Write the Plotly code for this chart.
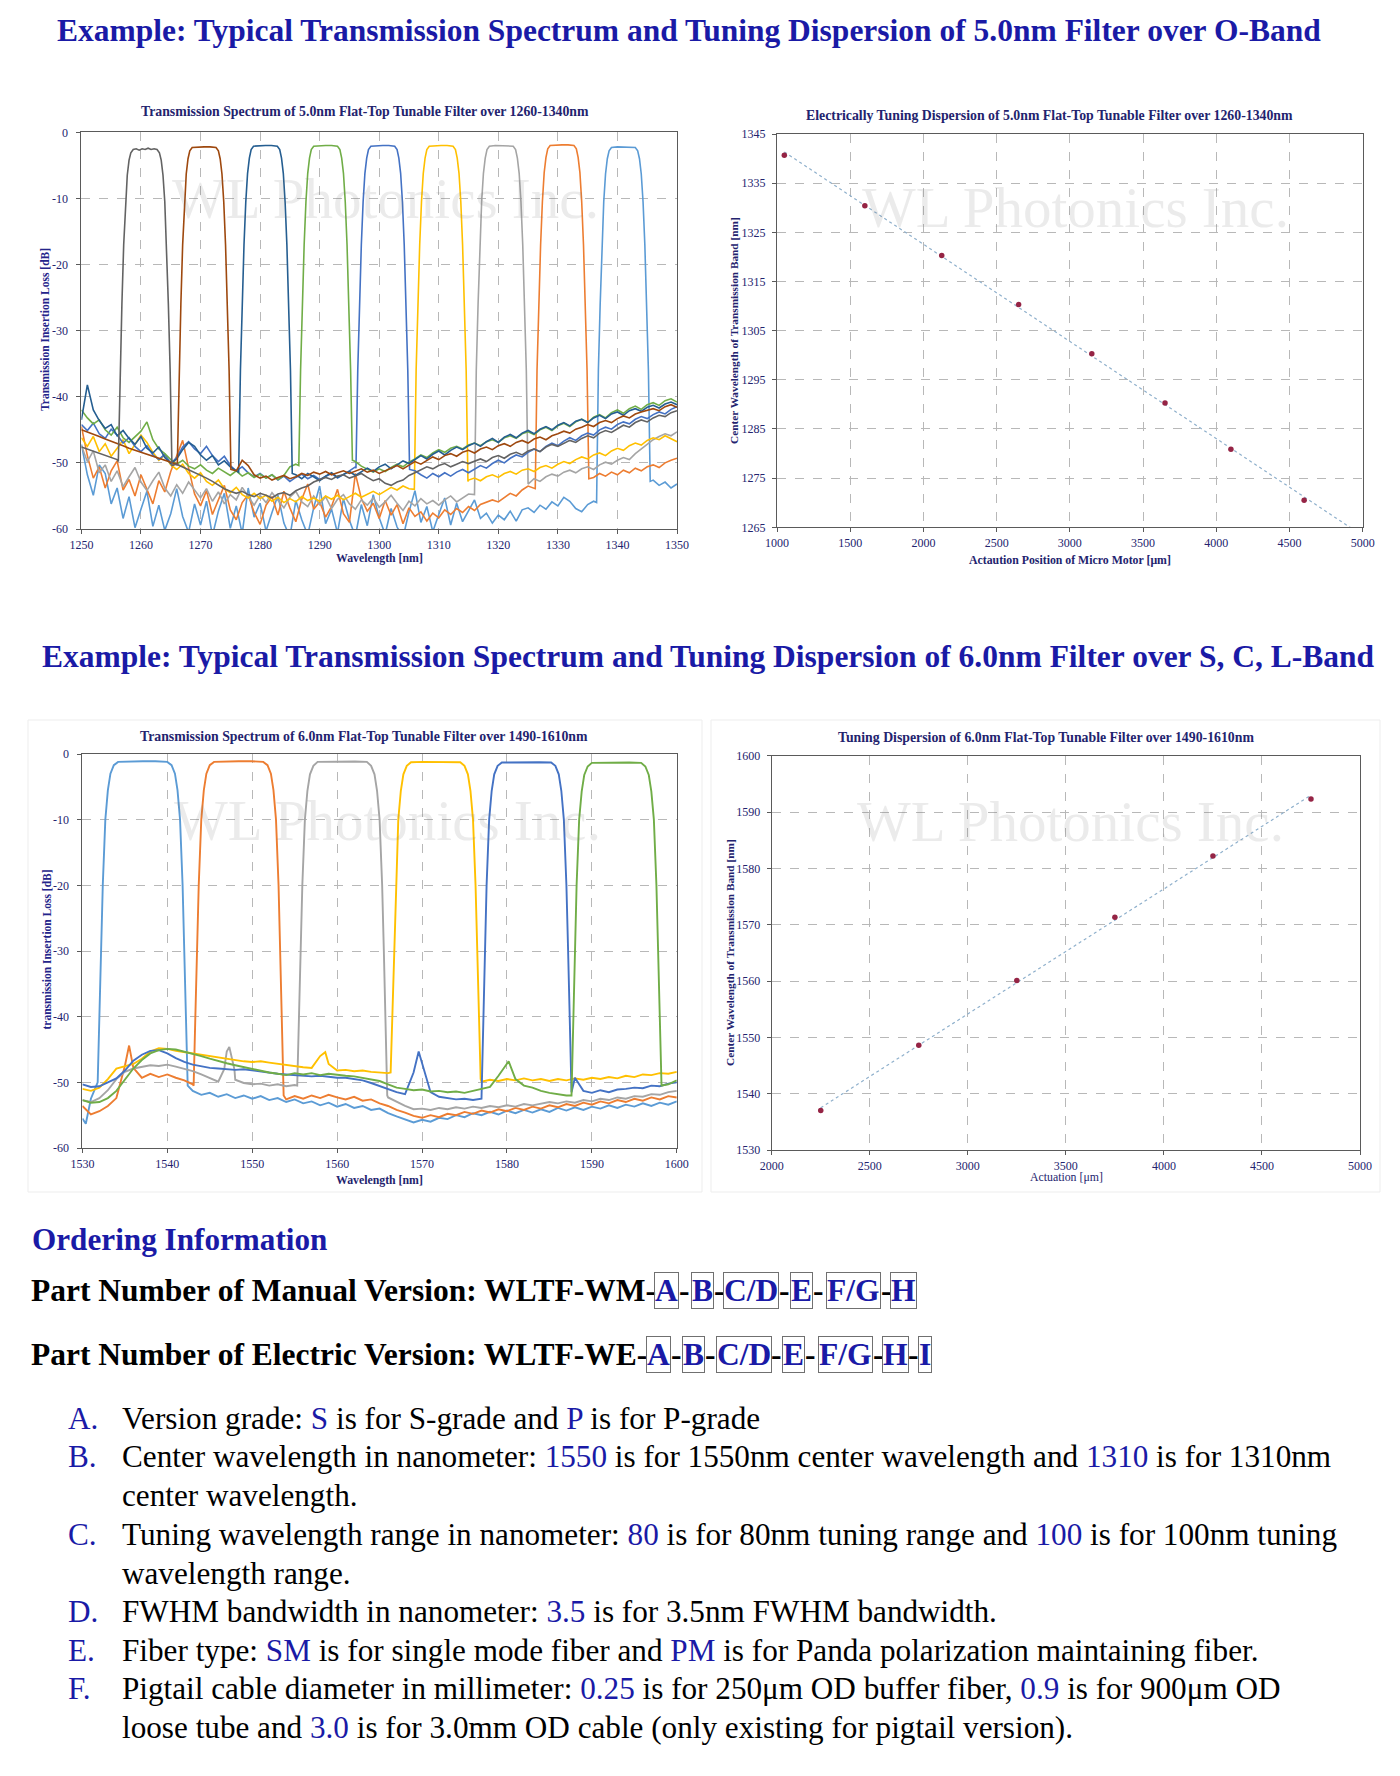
import plotly.graph_objects as go
import numpy as np

FONT = "Liberation Serif"
NAVY = "#23236e"
BLUE = "#1a1aa6"
W, H = 1400, 1776
PAGE_OFFSET = 8  # the html body margin shifts the figure by 8 px

# ---------------- Chart 1 : O-band spectra (1 nm baseline samples) ----------------
o_colors = ["#636363", "#9E480E", "#255E91", "#70AD47", "#4472C4",
            "#FFC000", "#A5A5A5", "#ED7D31", "#5B9BD5"]
o_xticks = [1250, 1260, 1270, 1280, 1290, 1300, 1310, 1320, 1330, 1340, 1350]
o_yticks = [-60, -50, -40, -30, -20, -10, 0]
o_yticklabels = ["-60", "-50", "-40", "-30", "-20", "-10", "0"]

o1_left = [-47.6, -47.9, -48.3, -48.6, -48.9, -49.2, -49.5]
o1_band_x = [1256.2, 1256.5, 1256.8, 1257.1, 1257.4, 1257.7, 1258.0, 1258.3, 1258.7, 1259.2, 1259.7,
             1260.2, 1260.7, 1261.2, 1261.7, 1262.2, 1262.7, 1263.1, 1263.4, 1263.7, 1264.0, 1264.3,
             1264.6, 1264.9, 1265.2]
o1_band_y = [-49.8, -36, -26, -17, -10.5, -6.5, -4.2, -3.1, -2.6, -2.5, -2.7, -2.5, -2.6, -2.4, -2.6,
             -2.5, -2.6, -3.1, -4.2, -6.5, -10.5, -17, -26, -36, -50.4]
o1_right_from = 1266
o1_right = [-50.2, -50.6, -51.0, -51.4, -51.9, -52.3, -52.8, -53.4, -53.9, -54.3,
            -54.6, -54.3, -54.8, -55.1, -54.6, -54.9, -55.3, -54.7, -54.5, -54.9,
            -54.2, -53.8, -53.5, -52.9, -52.6, -52.2, -52.5, -52.0, -51.8, -52.3,
            -52.0, -51.6, -52.2, -52.7, -52.4, -53.1, -53.4, -52.9, -52.6, -51.9,
            -51.5, -51.0, -50.6, -50.9, -50.4, -50.1, -50.6, -50.2, -49.8, -50.1,
            -49.7, -49.4, -49.8, -49.2, -48.9, -49.3, -48.7, -48.4, -48.8, -48.2,
            -47.9, -48.3, -47.6, -47.2, -47.5, -47.0, -46.6, -46.9, -46.3, -45.9,
            -46.2, -45.5, -45.1, -45.4, -44.8, -44.3, -44.6, -43.9, -43.5, -43.8,
            -43.2, -42.8, -43.0, -42.4, -42.1]

o2_left = [-45.0, -45.3, -45.7, -46.0, -46.4, -46.7, -47.1, -47.4, -47.8, -48.1,
           -48.4, -48.7, -49.0, -49.3, -49.6, -49.9, -50.2]
o2_band_x = [1266.1, 1266.4, 1266.7, 1267.0, 1267.3, 1267.6, 1267.9, 1268.2, 1268.6, 1269.6, 1270.6,
             1271.6, 1272.6, 1273.0, 1273.3, 1273.6, 1273.9, 1274.2, 1274.5, 1274.8, 1275.1]
o2_band_y = [-50.4, -36, -26, -17, -10.5, -6.3, -4.0, -2.8, -2.3, -2.2, -2.2, -2.2, -2.3, -2.8,
             -4.0, -6.3, -10.5, -17, -26, -36, -51.0]
o2_right_from = 1276
o2_right = [-51.2, -49.6, -50.4, -51.8, -52.3, -52.0, -52.6, -52.2, -51.9, -52.4,
            -52.1, -51.6, -51.9, -51.4, -51.7, -51.3, -51.8, -51.5, -51.2, -51.6,
            -51.3, -50.9, -51.4, -51.1, -51.6, -51.2, -50.8, -50.4, -50.9, -50.3,
            -49.8, -50.2, -49.6, -49.1, -49.5, -48.9, -48.6, -49.0, -48.4, -48.1,
            -48.5, -47.9, -47.6, -48.0, -47.4, -47.1, -47.5, -46.9, -46.6, -47.0,
            -46.4, -46.1, -46.5, -45.9, -45.6, -45.2, -45.5, -44.9, -44.6, -44.2,
            -44.5, -43.9, -43.6, -43.9, -43.3, -42.9, -43.2, -42.6, -42.3, -42.0,
            -41.8, -42.1, -41.5, -41.2, -41.6]

o3_left = [-43.5, -38.2, -42.0, -43.6, -44.8, -44.2, -45.9, -45.1, -46.3, -47.2,
           -46.0, -47.8, -48.5, -47.6, -49.2, -50.1, -49.4, -48.0, -46.9, -47.5,
           -48.8, -49.6, -48.9, -50.3, -49.7, -50.6, -51.2]
o3_band_x = [1276.4, 1276.7, 1277.0, 1277.3, 1277.6, 1277.9, 1278.2, 1278.5, 1278.9, 1279.9, 1280.9,
             1281.9, 1282.9, 1283.3, 1283.6, 1283.9, 1284.2, 1284.5, 1284.8, 1285.1, 1285.4]
o3_band_y = [-51.4, -36, -26, -17, -10.5, -6.2, -3.9, -2.6, -2.1, -2.0, -2.0, -2.0, -2.1, -2.6,
             -3.9, -6.2, -10.5, -17, -26, -36, -51.6]
o3_right_from = 1286
o3_right = [-51.8, -52.4, -51.6, -52.1, -52.7, -52.0, -51.5, -52.2, -51.7, -51.3,
            -51.9, -51.4, -50.8, -51.3, -50.6, -50.2, -50.9, -50.3, -49.7, -50.1,
            -49.5, -48.9, -49.4, -48.7, -48.2, -48.8, -48.1, -47.6, -48.0, -47.4,
            -47.0, -47.5, -46.8, -46.3, -46.9, -46.1, -45.7, -46.2, -45.5, -45.1,
            -45.6, -44.9, -44.5, -45.0, -44.3, -43.9, -44.4, -43.7, -43.4, -43.9,
            -43.2, -42.8, -43.3, -42.6, -42.3, -42.8, -42.1, -41.8, -42.2, -41.6,
            -41.3, -41.7, -41.1, -40.8, -41.2]

o4_left = [-42.0, -43.2, -44.1, -43.5, -45.0, -45.8, -44.6, -46.2, -46.9, -46.1,
           -45.2, -43.8, -46.5, -47.9, -48.6, -49.5, -50.2, -49.6, -50.5, -50.9,
           -50.3, -51.1, -51.6, -50.8, -51.4, -51.9, -51.2, -52.0, -51.5, -52.2,
           -51.7, -52.3, -51.8, -52.5, -51.9, -50.6, -50.2]
o4_band_x = [1286.5, 1286.8, 1287.1, 1287.4, 1287.7, 1288.0, 1288.3, 1288.6, 1289.0, 1290.0, 1291.0,
             1292.0, 1293.0, 1293.4, 1293.7, 1294.0, 1294.3, 1294.6, 1294.9, 1295.2, 1295.5]
o4_band_y = [-50.4, -36, -26, -17, -10.5, -6.2, -3.9, -2.6, -2.1, -2.0, -2.0, -2.0, -2.1, -2.6,
             -3.9, -6.2, -10.5, -17, -26, -36, -49.6]
o4_right_from = 1296
o4_right = [-49.8, -50.5, -51.0, -51.4, -50.9, -51.3, -50.7, -50.2, -50.6, -49.9,
            -49.4, -48.8, -49.2, -48.5, -48.0, -48.4, -47.8, -47.5, -47.9, -47.3,
            -47.0, -47.4, -46.8, -46.5, -46.9, -46.2, -45.9, -46.3, -45.6, -45.3,
            -45.7, -45.0, -44.6, -45.1, -44.4, -44.0, -44.5, -43.8, -43.4, -43.9,
            -43.1, -42.7, -43.2, -42.4, -42.0, -42.5, -41.8, -41.4, -41.9, -41.2,
            -40.9, -41.3, -40.6, -40.3, -40.8]

o5_left = [-44.2, -45.1, -44.0, -45.6, -46.3, -44.9, -45.8, -47.0, -46.2, -47.5,
           -48.3, -47.4, -48.8, -49.5, -48.7, -50.1, -49.2, -47.6, -46.8, -47.9,
           -48.6, -47.5, -48.9, -49.8, -49.0, -50.4, -51.2, -50.6, -51.5, -52.1,
           -51.6, -52.3, -51.8, -52.6, -52.0, -52.8, -52.2, -51.7, -52.4, -51.9,
           -52.5, -52.0, -51.6, -52.3, -51.8, -51.2, -50.6]
o5_band_x = [1296.1, 1296.4, 1296.7, 1297.0, 1297.3, 1297.6, 1297.9, 1298.2, 1298.6, 1299.6, 1300.6,
             1301.6, 1302.6, 1303.0, 1303.3, 1303.6, 1303.9, 1304.2, 1304.5, 1304.8, 1305.1]
o5_band_y = [-50.8, -36, -26, -17, -10.5, -6.2, -3.9, -2.6, -2.1, -2.0, -2.0, -2.0, -2.1, -2.6,
             -3.9, -6.2, -10.5, -17, -26, -36, -51.0]
o5_right_from = 1306
o5_right = [-51.2, -51.8, -52.3, -51.6, -52.1, -51.5, -52.0, -51.4, -51.0, -51.5,
            -50.9, -50.4, -50.8, -50.1, -49.6, -50.0, -49.3, -48.8, -49.1, -48.4,
            -47.9, -48.3, -47.5, -47.0, -47.4, -46.7, -46.2, -46.6, -45.9, -45.5,
            -45.8, -45.0, -44.6, -44.9, -44.2, -43.8, -44.1, -43.4, -43.0, -43.3,
            -42.7, -42.3, -42.6, -41.9, -41.5]

o6_left = [-46.2, -47.5, -46.0, -48.3, -47.1, -49.0, -47.8, -46.5, -48.6, -47.2,
           -45.8, -46.9, -48.4, -49.6, -48.8, -50.3, -51.0, -50.2, -51.6, -52.3,
           -51.5, -52.8, -53.4, -52.6, -53.9, -54.5, -53.7, -54.8, -55.3, -54.6,
           -55.4, -54.9, -55.8, -55.2, -56.0, -55.4, -55.9, -55.1, -55.7, -55.3,
           -55.8, -55.0, -55.5, -54.9, -55.6, -55.1, -54.6, -55.2, -54.7, -54.3,
           -54.8, -54.2, -53.7, -54.1, -53.5, -53.9]
o6_band_x = [1305.9, 1306.2, 1306.5, 1306.8, 1307.1, 1307.4, 1307.7, 1308.0, 1308.4, 1309.4, 1310.4,
             1311.4, 1312.4, 1312.8, 1313.1, 1313.4, 1313.7, 1314.0, 1314.3, 1314.6, 1314.9]
o6_band_y = [-54.0, -36, -26, -17, -10.5, -6.2, -3.9, -2.6, -2.1, -2.0, -2.0, -2.0, -2.1, -2.6,
             -3.9, -6.2, -10.5, -17, -26, -36, -52.8]
o6_right_from = 1315
o6_right = [-52.6, -52.3, -52.7, -52.1, -51.8, -52.2, -51.6, -51.3, -51.7, -51.1,
            -50.9, -51.3, -50.7, -50.4, -50.8, -50.2, -49.8, -50.1, -49.5, -49.1,
            -49.4, -48.8, -48.5, -48.9, -48.2, -47.8, -48.1, -47.4, -47.0, -47.3,
            -46.6, -46.2, -46.5, -45.9, -46.3, -46.8]

o7_left = [-47.4, -49.8, -48.2, -51.5, -50.3, -52.8, -51.2, -53.6, -52.1, -50.7,
           -52.9, -54.2, -52.7, -51.4, -53.8, -55.0, -53.3, -54.6, -52.9, -54.1,
           -55.3, -53.9, -55.8, -54.4, -56.2, -54.8, -55.6, -53.7, -55.1, -56.4,
           -54.9, -56.0, -54.5, -55.7, -56.8, -55.2, -54.3, -55.9, -56.6, -55.0,
           -56.3, -55.1, -56.9, -55.5, -54.8, -56.2, -57.0, -55.6, -56.4, -55.3,
           -56.7, -55.9, -54.9, -56.1, -57.2, -55.8, -56.5, -55.4, -56.2, -55.7,
           -56.4, -55.6, -55.0, -55.9, -55.3, -54.7]
o7_band_x = [1316.0, 1316.3, 1316.6, 1316.9, 1317.2, 1317.5, 1317.8, 1318.1, 1318.5, 1319.5, 1320.5,
             1321.5, 1322.5, 1322.9, 1323.2, 1323.5, 1323.8, 1324.1, 1324.4, 1324.7, 1325.0]
o7_band_y = [-54.8, -36, -26, -17, -10.5, -6.2, -3.9, -2.6, -2.1, -2.0, -2.0, -2.0, -2.1, -2.6,
             -3.9, -6.2, -10.5, -17, -26, -36, -53.2]
o7_right_from = 1326
o7_right = [-52.4, -52.8, -52.1, -51.7, -52.0, -51.4, -51.1, -51.5, -50.9,
            -50.6, -51.0, -50.3, -49.9, -50.2, -49.6, -49.2, -49.5, -48.6, -47.9,
            -47.2, -46.5, -46.0, -45.6, -45.9, -45.3]

o8_left = [-44.5, -48.9, -52.3, -50.6, -53.8, -51.2, -49.7, -54.1, -52.5, -55.0,
           -51.8, -53.9, -56.2, -52.7, -54.4, -51.3, -49.0, -46.6, -50.8, -54.7,
           -56.5, -54.2, -57.8, -55.6, -53.4, -57.1, -58.6, -56.0, -54.8, -57.5,
           -59.3, -56.4, -55.1, -57.9, -54.3, -56.8, -58.9, -55.5, -53.2, -57.0,
           -55.9, -58.2, -56.6, -54.0, -57.7, -59.0, -51.6, -55.4, -57.3, -56.1,
           -58.4, -55.7, -57.9, -56.3, -59.2, -56.8, -58.1, -57.4, -58.8, -57.6,
           -58.3, -57.1, -57.8, -56.9, -57.5, -56.6, -57.2, -56.3, -56.0, -55.6,
           -55.9, -55.2, -54.6, -55.0, -54.1, -53.5, -53.8]
o8_band_x = [1326.2, 1326.5, 1326.8, 1327.1, 1327.4, 1327.7, 1328.0, 1328.3, 1328.7, 1329.7, 1330.7,
             1331.7, 1332.7, 1333.1, 1333.4, 1333.7, 1334.0, 1334.3, 1334.6, 1334.9, 1335.2]
o8_band_y = [-53.9, -36, -26, -17, -10.5, -6.1, -3.8, -2.5, -2.0, -1.9, -1.9, -1.9, -2.0, -2.5,
             -3.8, -6.1, -10.5, -17, -26, -36, -52.4]
o8_right_from = 1336
o8_right = [-52.2, -51.6, -52.0, -51.4, -51.8, -51.1, -51.5, -50.8, -51.2, -50.6,
            -50.3, -50.7, -50.0, -49.6, -49.3]

o9_left = [-47.2, -51.8, -54.9, -50.3, -51.6, -56.2, -53.8, -58.4, -55.1, -59.8,
           -57.0, -54.3, -59.6, -56.4, -60.2, -57.7, -53.9, -58.1, -60.5, -56.2,
           -59.4, -55.8, -61.0, -57.3, -54.6, -59.9, -56.5, -60.7, -53.8, -58.2,
           -56.1, -60.3, -57.5, -54.9, -59.1, -61.2, -55.7, -58.6, -60.9, -56.8,
           -53.5, -59.2, -57.0, -60.6, -55.4, -58.7, -61.1, -56.3, -59.5, -54.8,
           -58.3, -60.8, -56.9, -59.7, -61.3, -57.4, -54.2, -59.0, -56.6, -60.4,
           -57.8, -55.3, -59.4, -56.1, -58.9, -57.2, -55.6, -58.4, -57.6, -59.1,
           -57.9, -58.6, -57.3, -58.8, -57.1, -56.8, -57.5, -56.4, -57.0, -55.9,
           -56.5, -55.2, -55.8, -56.9, -57.4, -56.3, -55.8]
o9_band_x = [1336.5, 1336.8, 1337.1, 1337.4, 1337.7, 1338.0, 1338.3, 1338.6, 1339.0, 1340.0, 1341.0,
             1342.0, 1343.0, 1343.4, 1343.7, 1344.0, 1344.3, 1344.6, 1344.9, 1345.2, 1345.5]
o9_band_y = [-56.0, -36, -26, -17, -10.5, -6.3, -4.0, -2.8, -2.3, -2.2, -2.2, -2.2, -2.3, -2.8,
             -4.0, -6.3, -10.5, -17, -26, -36, -52.8]
o9_right_from = 1346
o9_right = [-52.6, -53.4, -52.9, -53.8, -53.2]

# ---------------- Chart 2 : O-band tuning dispersion ----------------
o_act = [1050, 1600, 2125, 2650, 3150, 3650, 4100, 4600]
o_cwl = [1340.7, 1330.4, 1320.3, 1310.3, 1300.3, 1290.3, 1280.9, 1270.5]
o2_xticks = [1000, 1500, 2000, 2500, 3000, 3500, 4000, 4500, 5000]
o2_yticks = [1265, 1275, 1285, 1295, 1305, 1315, 1325, 1335, 1345]

# ---------------- Chart 3 : S/C/L spectra ----------------
s_colors = ["#5B9BD5", "#ED7D31", "#A5A5A5", "#FFC000", "#4472C4", "#70AD47"]
s_xticks = [1530, 1540, 1550, 1560, 1570, 1580, 1590, 1600]

s1_left = [-55.5, -52.5]
s1_band_x = [1531.8, 1532.0, 1532.2, 1532.4, 1532.7, 1533.0, 1533.3, 1533.7, 1534.2, 1535.6, 1537.1,
             1538.6, 1540.0, 1540.5, 1540.9, 1541.2, 1541.5, 1541.8, 1542.0, 1542.2, 1542.4]
s1_band_y = [-50, -40, -30, -20, -10, -5.5, -3.0, -1.7, -1.2, -1.1, -1.1, -1.1, -1.2, -1.7, -3.0,
             -5.5, -10, -20, -30, -40, -50.5]
s1_right_from = 1543
s1_right = [-51.3, -51.9, -51.6, -52.2, -51.8, -52.4, -52.0, -52.5, -52.1, -52.7,
            -52.4, -53.0, -52.6, -53.2, -52.9, -53.5, -53.1, -53.7, -53.3, -53.9,
            -53.6, -54.2, -54.0, -54.7, -55.2, -55.6, -56.1, -55.7, -56.0, -55.4,
            -55.6, -55.0, -55.3, -54.7, -55.0, -54.5, -54.9, -54.3, -54.7, -54.2,
            -54.6, -54.1, -54.5, -53.9, -54.3, -53.8, -54.2, -53.7, -54.0, -53.5,
            -53.9, -53.4, -53.7, -53.2, -53.6, -53.1, -53.4, -52.9]
s1_bumps_x = [1530.4]
s1_bumps_y = [-56.3]

s2_left = [-53.6, -54.9, -54.4, -53.6, -52.4, -47.5, -47.8, -49.3, -48.7, -49.2,
           -48.8, -49.3, -49.7, -50.3]
s2_band_x = [1543.1, 1543.3, 1543.5, 1543.7, 1544.0, 1544.3, 1544.6, 1545.0, 1545.5, 1546.9, 1548.4,
             1549.9, 1551.3, 1551.8, 1552.2, 1552.5, 1552.8, 1553.1, 1553.3, 1553.5, 1553.7]
s2_band_y = [-50.5, -40, -30, -20, -10, -5.5, -3.0, -1.7, -1.2, -1.1, -1.1, -1.1, -1.2, -1.7, -3.0,
             -5.5, -10, -20, -30, -40, -52.0]
s2_right_from = 1554
s2_right = [-52.6, -52.1, -52.5, -52.0, -52.4, -51.9, -52.3, -52.6, -52.2, -52.8,
            -52.6, -53.2, -53.6, -54.2, -54.6, -55.1, -55.4, -55.0, -55.3, -54.8,
            -55.0, -54.5, -54.8, -54.3, -54.6, -54.1, -54.4, -53.9, -54.2, -53.7,
            -54.0, -53.5, -53.8, -53.3, -53.6, -53.1, -53.4, -52.9, -53.2, -52.7,
            -53.0, -52.5, -52.8, -52.3, -52.6, -52.1, -52.3]
s2_bumps_x = [1535.5]
s2_bumps_y = [-44.4]

s3_left = [-52.7, -53.0, -52.4, -51.2, -49.5, -48.4, -47.9, -47.6, -47.4, -47.5,
           -47.3, -47.6, -47.9, -48.3, -48.8, -49.4, -49.9, -45.3, -49.6, -50.1,
           -50.3, -50.2, -50.5, -50.3, -50.6, -50.4]
s3_band_x = [1555.3, 1555.5, 1555.7, 1555.9, 1556.2, 1556.5, 1556.8, 1557.2, 1557.7, 1559.1, 1560.6,
             1562.1, 1563.5, 1564.0, 1564.4, 1564.7, 1565.0, 1565.3, 1565.5, 1565.7, 1565.9]
s3_band_y = [-50.5, -40, -30, -20, -10, -5.6, -3.1, -1.8, -1.2, -1.15, -1.15, -1.15, -1.2, -1.8,
             -3.1, -5.6, -10, -20, -30, -40, -52.0]
s3_right_from = 1566
s3_right = [-52.3, -53.0, -53.6, -54.1, -54.0, -54.2, -53.9, -54.1, -53.8, -54.0,
            -53.7, -53.9, -53.6, -53.8, -53.5, -53.7, -53.3, -53.5, -53.2, -53.0,
            -53.2, -52.9, -53.1, -52.7, -52.9, -52.5, -52.7, -52.3, -52.5, -52.1,
            -52.2, -51.8, -51.9, -51.5, -51.3]
s3_bumps_x = [1546.7, 1547.3, 1547.9]
s3_bumps_y = [-48.0, -44.6, -48.0]

s4_left = [-51.0, -51.3, -50.8, -49.5, -47.9, -47.5, -47.2, -46.4, -45.3, -44.8,
           -44.9, -45.2, -45.4, -45.7, -45.9, -46.1, -46.3, -46.5, -46.7, -46.8,
           -46.9, -46.8, -47.0, -47.2, -47.4, -47.5, -47.7, -47.8, -46.0, -47.2,
           -48.2, -48.1, -48.3, -48.2, -48.4, -48.5, -48.6]
s4_band_x = [1566.3, 1566.5, 1566.7, 1566.9, 1567.2, 1567.5, 1567.8, 1568.2, 1568.7, 1570.1, 1571.6,
             1573.1, 1574.5, 1575.0, 1575.4, 1575.7, 1576.0, 1576.3, 1576.5, 1576.7, 1576.9]
s4_band_y = [-48.5, -40, -30, -20, -10, -5.6, -3.1, -1.8, -1.25, -1.2, -1.2, -1.2, -1.25, -1.8,
             -3.1, -5.6, -10, -20, -30, -40, -49.5]
s4_right_from = 1577
s4_right = [-49.9, -49.6, -49.8, -49.5, -49.7, -49.4, -49.7, -49.5, -49.8, -49.5,
            -49.7, -49.4, -49.6, -49.3, -49.5, -49.2, -49.4, -49.0, -49.2, -48.8,
            -48.9, -48.6, -48.7, -48.4]
s4_bumps_x = [1558.6]
s4_bumps_y = [-45.4]

s5_left = [-50.3, -50.7, -50.6, -50.0, -49.4, -48.2, -46.7, -45.8, -45.2, -45.1,
           -45.6, -46.3, -46.9, -47.3, -47.6, -47.8, -47.9, -48.0, -48.1, -48.0,
           -48.2, -48.4, -48.5, -48.7, -48.8, -48.9, -49.0, -49.1, -49.0, -49.2,
           -49.3, -49.3, -49.5, -49.7, -50.1, -50.6, -51.0, -51.5, -51.8, -48.5,
           -47.0, -51.5, -52.2, -52.4, -52.6, -52.5, -52.7]
s5_band_x = [1577.0, 1577.2, 1577.4, 1577.6, 1577.9, 1578.2, 1578.5, 1578.9, 1579.4, 1580.8, 1582.3,
             1583.8, 1585.2, 1585.7, 1586.1, 1586.4, 1586.7, 1587.0, 1587.2, 1587.4, 1587.6]
s5_band_y = [-52.5, -40, -30, -20, -10, -5.6, -3.1, -1.8, -1.3, -1.25, -1.25, -1.25, -1.3, -1.8,
             -3.1, -5.6, -10, -20, -30, -40, -51.5]
s5_right_from = 1588
s5_right = [-49.3, -51.3, -51.6, -51.2, -51.5, -51.1, -51.0, -50.8, -50.9, -50.5, -50.6, -50.2, -50.0]
s5_bumps_x = [1569.6]
s5_bumps_y = [-45.3]

s6_left = [-52.7, -53.1, -53.0, -52.4, -51.3, -49.6, -47.9, -46.6, -45.6, -45.1,
           -44.9, -45.0, -45.3, -45.6, -46.0, -46.4, -46.8, -47.1, -47.4, -47.7,
           -48.0, -48.3, -48.5, -48.7, -48.9, -48.6, -48.8, -48.6, -48.9, -48.7,
           -48.9, -49.0, -49.1, -49.3, -49.5, -49.8, -50.3, -50.8, -51.0, -51.2,
           -51.1, -51.4, -51.3, -51.5, -51.4, -51.6, -51.3, -51.0, -50.7, -49.0,
           -47.0, -49.5, -50.5, -50.8, -51.3, -51.6, -51.8, -52.0]
s6_band_x = [1587.6, 1587.8, 1588.0, 1588.2, 1588.5, 1588.8, 1589.1, 1589.5, 1590.0, 1591.4, 1592.9,
             1594.4, 1595.8, 1596.3, 1596.7, 1597.0, 1597.3, 1597.6, 1597.8, 1598.0, 1598.2]
s6_band_y = [-52.0, -40, -30, -20, -10, -5.7, -3.2, -1.9, -1.35, -1.3, -1.3, -1.3, -1.35, -1.9,
             -3.2, -5.7, -10, -20, -30, -40, -50.5]
s6_right_from = 1599
s6_right = [-50.3, -49.7]
s6_bumps_x = [1580.2]
s6_bumps_y = [-46.8]

# ---------------- Chart 4 : S/C/L tuning dispersion ----------------
s_act = [2250, 2750, 3250, 3750, 4250, 4750]
s_cwl = [1537.0, 1548.6, 1560.1, 1571.3, 1582.2, 1592.3]
s4_xticks = [2000, 2500, 3000, 3500, 4000, 4500, 5000]
s4_yticks = [1530, 1540, 1550, 1560, 1570, 1580, 1590, 1600]

# ---------------- Text ----------------
title1 = "Example: Typical Transmission Spectrum and Tuning Dispersion of 5.0nm Filter over O-Band"
title2 = "Example: Typical Transmission Spectrum and Tuning Dispersion of 6.0nm Filter over S, C, L-Band"
list_items = [
    ("A.", "Version grade: {S} is for S-grade and {P} is for P-grade"),
    ("B.", "Center wavelength in nanometer: {1550} is for 1550nm center wavelength and {1310} is for 1310nm"),
    ("", "center wavelength."),
    ("C.", "Tuning wavelength range in nanometer: {80} is for 80nm tuning range and {100} is for 100nm tuning"),
    ("", "wavelength range."),
    ("D.", "FWHM bandwidth in nanometer: {3.5} is for 3.5nm FWHM bandwidth."),
    ("E.", "Fiber type: {SM} is for single mode fiber and {PM} is for Panda polarization maintaining fiber."),
    ("F.", "Pigtail cable diameter in millimeter: {0.25} is for 250μm OD buffer fiber, {0.9} is for 900μm OD"),
    ("", "loose tube and {3.0} is for 3.0mm OD cable (only existing for pigtail version)."),
]

# =====================================================================
def px(x):
    return (x - PAGE_OFFSET) / W


def py(y):
    return 1 - (y - PAGE_OFFSET) / H


fig = go.Figure()

o_curves = [
    (o1_left, o1_band_x, o1_band_y, o1_right_from, o1_right),
    (o2_left, o2_band_x, o2_band_y, o2_right_from, o2_right),
    (o3_left, o3_band_x, o3_band_y, o3_right_from, o3_right),
    (o4_left, o4_band_x, o4_band_y, o4_right_from, o4_right),
    (o5_left, o5_band_x, o5_band_y, o5_right_from, o5_right),
    (o6_left, o6_band_x, o6_band_y, o6_right_from, o6_right),
    (o7_left, o7_band_x, o7_band_y, o7_right_from, o7_right),
    (o8_left, o8_band_x, o8_band_y, o8_right_from, o8_right),
    (o9_left, o9_band_x, o9_band_y, o9_right_from, o9_right),
]
for (left, bx, by, rfrom, right), col in reversed(list(zip(o_curves, o_colors))):
    xs = [1250 + i for i in range(len(left))] + bx + [rfrom + i for i in range(len(right))]
    ys = left + by + right
    fig.add_trace(go.Scatter(x=xs, y=ys, mode="lines", line=dict(color=col, width=1.6),
                             xaxis="x", yaxis="y", hoverinfo="skip"))

# chart 2
fit = np.polyfit(o_act, o_cwl, 1)
fx = [o_act[0], 5000]
fig.add_trace(go.Scatter(x=fx, y=list(np.polyval(fit, fx)), mode="lines",
                         line=dict(color="#8fb0cc", width=1.2, dash="dot"),
                         xaxis="x2", yaxis="y2", hoverinfo="skip"))
fig.add_trace(go.Scatter(x=o_act, y=o_cwl, mode="markers",
                         marker=dict(color="#952445", size=5.5),
                         xaxis="x2", yaxis="y2", hoverinfo="skip"))

# chart 3
s_curves = [
    (s1_left, s1_band_x, s1_band_y, s1_right_from, s1_right, s1_bumps_x, s1_bumps_y),
    (s2_left, s2_band_x, s2_band_y, s2_right_from, s2_right, s2_bumps_x, s2_bumps_y),
    (s3_left, s3_band_x, s3_band_y, s3_right_from, s3_right, s3_bumps_x, s3_bumps_y),
    (s4_left, s4_band_x, s4_band_y, s4_right_from, s4_right, s4_bumps_x, s4_bumps_y),
    (s5_left, s5_band_x, s5_band_y, s5_right_from, s5_right, s5_bumps_x, s5_bumps_y),
    (s6_left, s6_band_x, s6_band_y, s6_right_from, s6_right, s6_bumps_x, s6_bumps_y),
]
for (left, bx, by, rfrom, right, kx, ky), col in zip(s_curves, s_colors):
    pts = list(zip([1530 + i for i in range(len(left))], left)) + list(zip(bx, by)) + \
        list(zip([rfrom + i for i in range(len(right))], right)) + list(zip(kx, ky))
    pts.sort(key=lambda p: p[0])
    fig.add_trace(go.Scatter(x=[p[0] for p in pts], y=[p[1] for p in pts], mode="lines",
                             line=dict(color=col, width=1.9), xaxis="x3", yaxis="y3",
                             hoverinfo="skip"))

# chart 4
fit2 = np.polyfit(s_act, s_cwl, 1)
fx2 = [s_act[0], s_act[-1]]
fig.add_trace(go.Scatter(x=fx2, y=list(np.polyval(fit2, fx2)), mode="lines",
                         line=dict(color="#8fb0cc", width=1.2, dash="dot"),
                         xaxis="x4", yaxis="y4", hoverinfo="skip"))
fig.add_trace(go.Scatter(x=s_act, y=s_cwl, mode="markers",
                         marker=dict(color="#952445", size=5.5),
                         xaxis="x4", yaxis="y4", hoverinfo="skip"))


def ax(**kw):
    d = dict(showline=True, mirror=True, linecolor="#5a5a5a", linewidth=1.2,
             showgrid=True, gridcolor="#b8b8b8", griddash="dash", gridwidth=1,
             ticks="outside", ticklen=4, tickcolor="#5a5a5a", zeroline=False,
             tickfont=dict(family=FONT, size=12, color=NAVY), fixedrange=True)
    d.update(kw)
    return d


fig.update_layout(
    width=W, height=H, margin=dict(l=0, r=0, t=0, b=0, pad=0, autoexpand=False), autosize=False,
    paper_bgcolor="white", plot_bgcolor="white", showlegend=False,
    xaxis=ax(domain=[px(81.4), px(677)], range=[1250, 1350], tickvals=o_xticks, anchor="y"),
    yaxis=ax(domain=[py(529), py(132.3)], range=[-60, 0], tickvals=o_yticks,
             ticktext=o_yticklabels, anchor="x", ticklabelstandoff=6),
    xaxis2=ax(domain=[px(777), px(1362.7)], range=[1000, 5000], tickvals=o2_xticks, anchor="y2"),
    yaxis2=ax(domain=[py(527.3), py(134)], range=[1265, 1345], tickvals=o2_yticks, anchor="x2",
              ticklabelstandoff=4),
    xaxis3=ax(domain=[px(82.4), px(676.8)], range=[1530, 1600], tickvals=s_xticks, anchor="y3"),
    yaxis3=ax(domain=[py(1148), py(754)], range=[-60, 0], tickvals=o_yticks,
              ticktext=o_yticklabels, anchor="x3", ticklabelstandoff=6),
    xaxis4=ax(domain=[px(771.7), px(1360)], range=[2000, 5000], tickvals=s4_xticks, anchor="y4"),
    yaxis4=ax(domain=[py(1150), py(755.7)], range=[1530, 1600], tickvals=s4_yticks, anchor="x4",
              ticklabelstandoff=4),
)

ann = []


def text(x, y, t, size, color="black", bold=False, xanchor="center", angle=0, **kw):
    if bold:
        t = "<b>" + t + "</b>"
    ann.append(dict(x=px(x), y=py(y), xref="paper", yref="paper", text=t, showarrow=False,
                    xanchor=xanchor, yanchor="middle", textangle=angle,
                    font=dict(family=FONT, size=size, color=color), **kw))


# watermarks
for (wx, wy) in [(385, 199), (1075, 208), (388, 820), (1070, 822)]:
    text(wx, wy, "WL Photonics Inc.", 57, color="rgba(120,120,120,0.15)")

# faint frames around lower chart images
shapes = []
for (x0, y0, x1, y1) in [(28, 720, 702, 1192), (711, 720, 1380, 1192)]:
    shapes.append(dict(type="rect", xref="paper", yref="paper", x0=px(x0), x1=px(x1),
                       y0=py(y1), y1=py(y0), line=dict(color="#ededed", width=1), layer="below"))

# page titles
text(689, 31, title1, 31.5, color=BLUE, bold=True)
text(707.5, 656, title2, 31.5, color=BLUE, bold=True)

# chart titles and axis titles
text(364.6, 112, "Transmission Spectrum of 5.0nm Flat-Top Tunable Filter over 1260-1340nm", 13.8, NAVY, True)
text(1049.6, 115, "Electrically Tuning Dispersion of 5.0nm Flat-Top Tunable Filter over 1260-1340nm", 13.8, NAVY, True)
text(364, 736, "Transmission Spectrum of 6.0nm Flat-Top Tunable Filter over 1490-1610nm", 13.8, NAVY, True)
text(1046, 737, "Tuning Dispersion of 6.0nm Flat-Top Tunable Filter over 1490-1610nm", 13.8, NAVY, True)

text(379, 558, "Wavelength [nm]", 11.8, NAVY, True)
text(1070, 560, "Actaution Position of Micro Motor [μm]", 11.8, NAVY, True)
text(379, 1180, "Wavelength [nm]", 11.8, NAVY, True)
text(1066, 1177, "Actuation [μm]", 11.8, NAVY, False)

text(45, 330, "Transmission Insertion Loss [dB]", 11.5, "#24248a", True, angle=-90)
text(734, 331, "Center Wavelength of Transmission Band [nm]", 11.3, NAVY, True, angle=-90)
text(46.5, 950, "transmission Insertion Loss [dB]", 11.5, "#24248a", True, angle=-90)
text(730, 953, "Center Wavelength of Transmission Band [nm]", 11.3, NAVY, True, angle=-90)

# ordering information
text(29.5, 1239, "Ordering Information", 31.2, BLUE, True, xanchor="left")

pn_lines = [
    (1290, "Part Number of Manual Version: WLTF-WM-",
     [("A", 666.4), ("-", 684.5), ("B", 702), ("-", 719), ("C/D", 751.5), ("-", 784),
      ("E", 801), ("-", 818.5), ("F/G", 853.5), ("-", 886.5), ("H", 903.5)]),
    (1354, "Part Number of Electric Version: WLTF-WE-",
     [("A", 658), ("-", 676), ("B", 693), ("-", 710), ("C/D", 744), ("-", 776.5),
      ("E", 793), ("-", 810.5), ("F/G", 845.5), ("-", 878.5), ("H", 895.5), ("-", 913.5), ("I", 925)]),
]
for (yy, prefix, segs) in pn_lines:
    text(28.7, yy, prefix, 31.5, "black", True, xanchor="left")
    for (s, cx) in segs:
        if s == "-":
            text(cx, yy, s, 31.5, "black", True)
        else:
            text(cx, yy, s, 31.5, BLUE, True, bordercolor="#707070", borderwidth=1, borderpad=0)

list_y = [1418, 1456.5, 1495, 1534.5, 1573, 1611, 1650, 1688.5, 1727]
for (lab, body), yy in zip(list_items, list_y):
    if lab:
        text(66, yy, lab, 31.2, BLUE, False, xanchor="left")
    html = body.replace("{", "<span style='color:%s'>" % BLUE).replace("}", "</span>")
    text(119.5, yy, html, 31.2, "black", False, xanchor="left")

fig.update_layout(annotations=ann, shapes=shapes)
fig.write_html("out.html")
